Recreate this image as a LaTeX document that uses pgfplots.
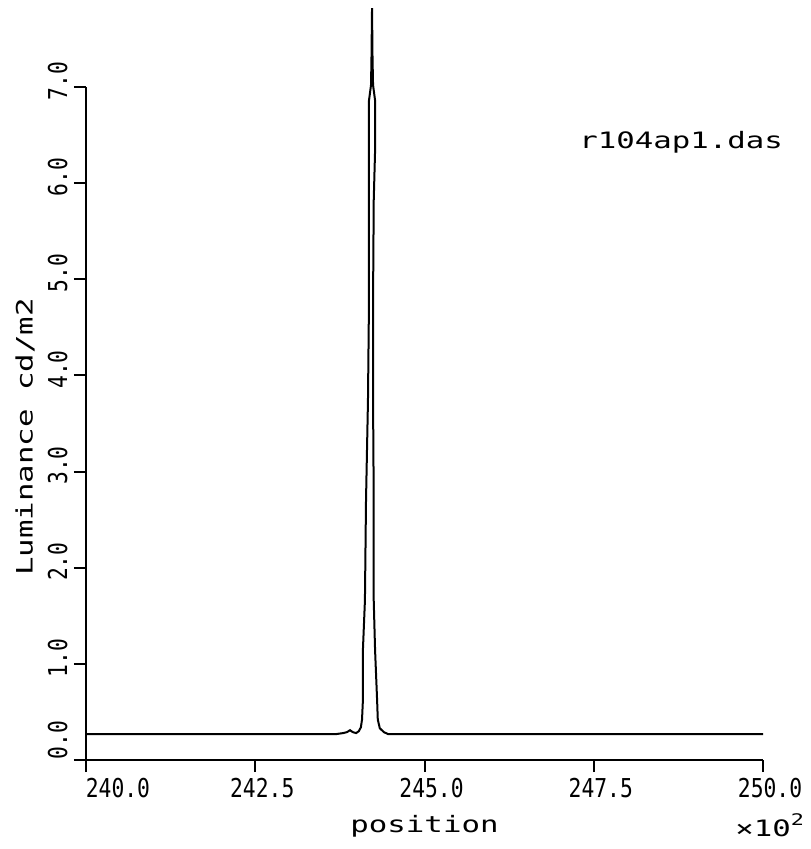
\documentclass[border=0pt]{standalone}
\usepackage{fontspec}
\setmainfont{DejaVu Sans Mono}
\newfontfamily\tickfont[FakeStretch=0.82]{DejaVu Sans Mono}
\newfontfamily\labfont[FakeStretch=1.36]{DejaVu Sans Mono}
\usepackage{pgfplots}
\pgfplotsset{compat=1.18}

\begin{document}
\begin{tikzpicture}
\useasboundingbox (-43pt,-44.5pt) rectangle (362pt,380pt);
\begin{axis}[
  at={(0,0)}, anchor=south west,
  scale only axis,
  width=338.5pt, height=336.5pt,
  xmin=240, xmax=250, ymin=0, ymax=7,
  axis lines*=left,
  axis line style={line width=1pt},
  clip=false,
  xtick={240,242.5,245,247.5,250},
  xticklabels={\hspace*{25pt}240.0, 242.5, 245.0, 247.5, 250.0},
  ytick={0,1,2,3,4,5,6,7},
  yticklabels={\hspace*{20pt}0.0, \hspace*{6pt}1.0, \hspace*{6pt}2.0, \hspace*{6pt}3.0,
    \hspace*{6pt}4.0, \hspace*{6pt}5.0, \hspace*{6pt}6.0, \hspace*{6pt}7.0},
  tick align=outside,
  major tick length=6pt,
  tick style={line width=1pt, black},
  xticklabel style={font=\fontsize{13}{13}\selectfont\tickfont, anchor=north, inner sep=0pt,
    xshift=3.5pt, yshift=-3pt},
  yticklabel style={font=\fontsize{13}{13}\selectfont\tickfont, xshift=-3pt, rotate=90,
    anchor=south, inner sep=0pt},
  every axis x label/.style={at={(rel axis cs:0.5,0)}, anchor=center, yshift=-33pt,
    font=\fontsize{11.3}{11.3}\selectfont\labfont},
  every axis y label/.style={at={(rel axis cs:0,0.48)}, xshift=-30.5pt, rotate=90, anchor=center,
    font=\fontsize{11.3}{11.3}\selectfont\labfont},
  xlabel={position},
  ylabel={Luminance cd/m2},
]
% luminance profile, traced up the left flank and down the right flank of the peak
\addplot[black, line width=1pt] coordinates {
  (240.00,0.27) (241.20,0.27) (242.60,0.27) (243.70,0.27)
  (243.80,0.28) (243.855,0.29) (243.90,0.31) (243.94,0.29) (243.99,0.28)
  (244.03,0.30) (244.06,0.34) (244.077,0.42) (244.09,0.62) (244.09,1.14)
  (244.12,1.66) (244.136,2.70) (244.165,3.74) (244.18,4.78) (244.18,5.82)
  (244.18,6.86) (244.21,7.02) (244.217,7.31) (244.225,7.82)
  (244.232,7.31) (244.24,7.02) (244.27,6.86) (244.27,6.34) (244.25,5.82)
  (244.24,4.78) (244.24,3.74) (244.25,2.70) (244.25,1.66) (244.27,1.14)
  (244.30,0.62) (244.31,0.42) (244.34,0.33) (244.40,0.29) (244.46,0.27)
  (245.50,0.27) (247.00,0.27) (248.60,0.27) (250.00,0.27)
};
\node[font=\fontsize{11.3}{11.3}\selectfont\labfont] at (rel axis cs:0.879,0.918) {r104ap1.das};
\node[font=\fontsize{11.3}{11.3}\selectfont\labfont, anchor=center] at (rel axis cs:1.01,-0.097) {×10\raisebox{0.5em}{\fontsize{8}{8}\selectfont 2}};
\end{axis}
\end{tikzpicture}
\end{document}
